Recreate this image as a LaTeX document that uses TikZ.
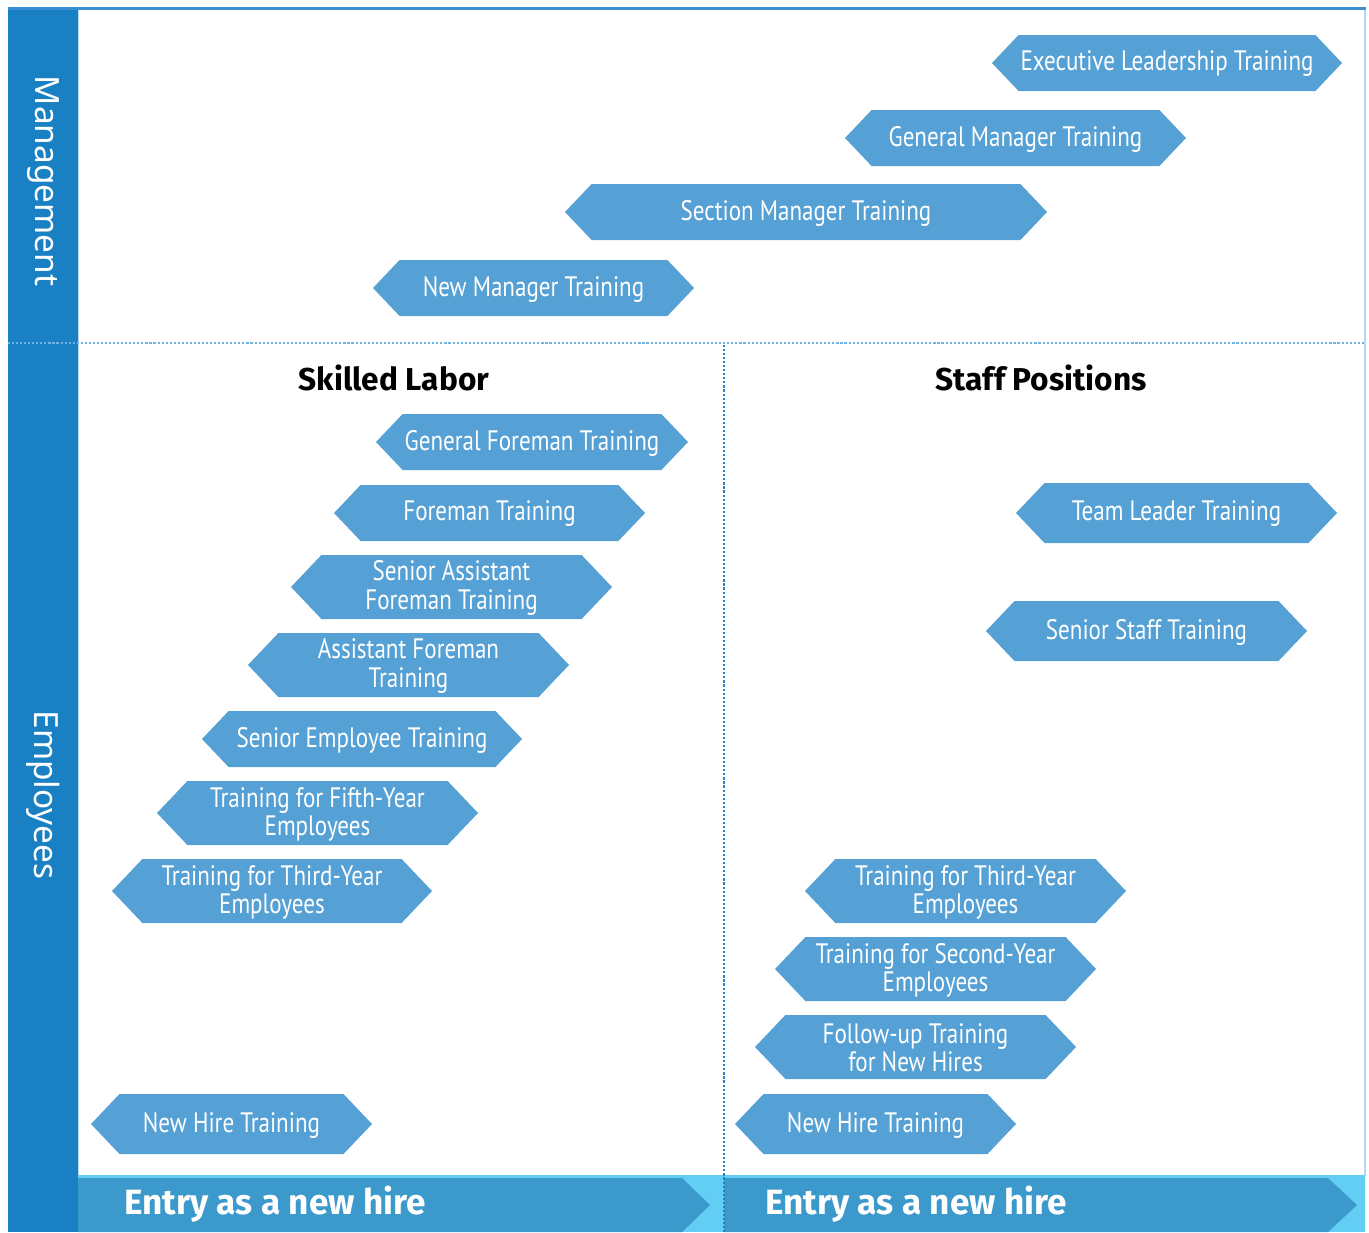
\documentclass[tikz,border=0pt]{standalone}
\usepackage{fontspec}
\setmainfont{Noto Sans}
\newfontfamily\boxfont[FakeStretch=0.82]{PT Sans}
\newfontfamily\headfont{Fira Sans}
\definecolor{barblue}{RGB}{26,128,196}
\definecolor{boxblue}{RGB}{85,160,212}
\definecolor{entryblue}{RGB}{60,153,204}
\definecolor{entrycyan}{RGB}{99,206,243}
\definecolor{dotblue}{RGB}{112,180,230}
\definecolor{linedark}{RGB}{42,127,200}
\definecolor{frameblue}{RGB}{58,143,210}
\definecolor{edgeblue}{RGB}{184,216,240}

\begin{document}
\begin{tikzpicture}[x=0.02cm,y=-0.02cm,
  boxtext/.style={text=white,align=center,inner sep=0pt,font=\boxfont\fontsize{16}{16}\selectfont},
  sidetext/.style={text=white,rotate=-90,inner sep=0pt,font=\fontsize{19}{19}\selectfont},
  headtext/.style={inner sep=0pt,font=\headfont\bfseries\fontsize{18}{18}\selectfont},
  entrytext/.style={text=white,anchor=west,inner sep=0pt,font=\headfont\bfseries\fontsize{20}{20}\selectfont}]
\useasboundingbox (0,0) rectangle (1369,1232);
% frame and side bar
\fill[barblue] (8,8) rectangle (78,1232);
\draw[edgeblue,line width=0.6pt] (78.5,10) -- (78.5,1176);
\draw[edgeblue,line width=0.8pt] (1365,8) -- (1365,1176);
\draw[frameblue,line width=1.7pt] (8,8) -- (1366,8);
\node[sidetext] (mgmt) at (43,181) {Management};
\node[sidetext] (emp) at (43,795) {Employees};
% entry bar
\fill[entrycyan] (78,1175) rectangle (1365,1232);
\fill[entryblue] (78,1178) -- (682,1178) -- (710,1205) -- (682,1232) -- (78,1232) -- cycle;
\fill[entryblue] (724,1178) -- (1328,1178) -- (1357,1205) -- (1328,1232) -- (724,1232) -- cycle;
\node[entrytext] (entryL) at (124,1204) {Entry as a new hire};
\node[entrytext] (entryR) at (765,1204) {Entry as a new hire};
% dividers
\draw[dotblue,line width=1.3pt,dash pattern=on 1.2pt off 1.1pt] (8,343) -- (1365,343);
\draw[linedark,line width=1.3pt,dash pattern=on 1.2pt off 1.1pt] (724,345) -- (724,1232);
% column heads
\node[headtext] (skilled) at (394,378) {Skilled Labor};
\node[headtext] (staff) at (1041,378) {Staff Positions};
% training steps
\foreach \nm/\xl/\xr/\yc/\hh/\txt in {
    exec/992/1342/63/28/{Executive Leadership Training},
    genmgr/845/1186/138/28/{General Manager Training},
    secmgr/565/1047/212/28/{Section Manager Training},
    newmgr/373/694/288/28/{New Manager Training},
    genfore/376/688/442/28/{General Foreman Training},
    fore/334/645/513/28/{Foreman Training},
    srasst/291/612/587/32/{Senior Assistant\\Foreman Training},
    asst/248/569/665/32/{Assistant Foreman\\Training},
    sremp/202/522/739/28/{Senior Employee Training},
    fifth/157/478/813/32/{Training for Fifth-Year\\Employees},
    thirdL/112/432/891/32/{Training for Third-Year\\Employees},
    hireL/91/372/1124/30/{New Hire Training},
    team/1016/1337/513/30/{Team Leader Training},
    srstaff/986/1307/631/30/{Senior Staff Training},
    thirdR/805/1126/891/32/{Training for Third-Year\\Employees},
    second/775/1096/969/32/{Training for Second-Year\\Employees},
    follow/755/1076/1047/32/{Follow-up Training\\for New Hires},
    hireR/735/1016/1124/30/{New Hire Training}} {
    \fill[boxblue] (\xl,\yc) -- ({\xl+0.95*\hh},{\yc-\hh}) -- ({\xr-0.95*\hh},{\yc-\hh})
        -- (\xr,\yc) -- ({\xr-0.95*\hh},{\yc+\hh}) -- ({\xl+0.95*\hh},{\yc+\hh}) -- cycle;
    \node[boxtext] (\nm) at ({(\xl+\xr)/2},\yc+1) {\txt};
}
\end{tikzpicture}
\end{document}
